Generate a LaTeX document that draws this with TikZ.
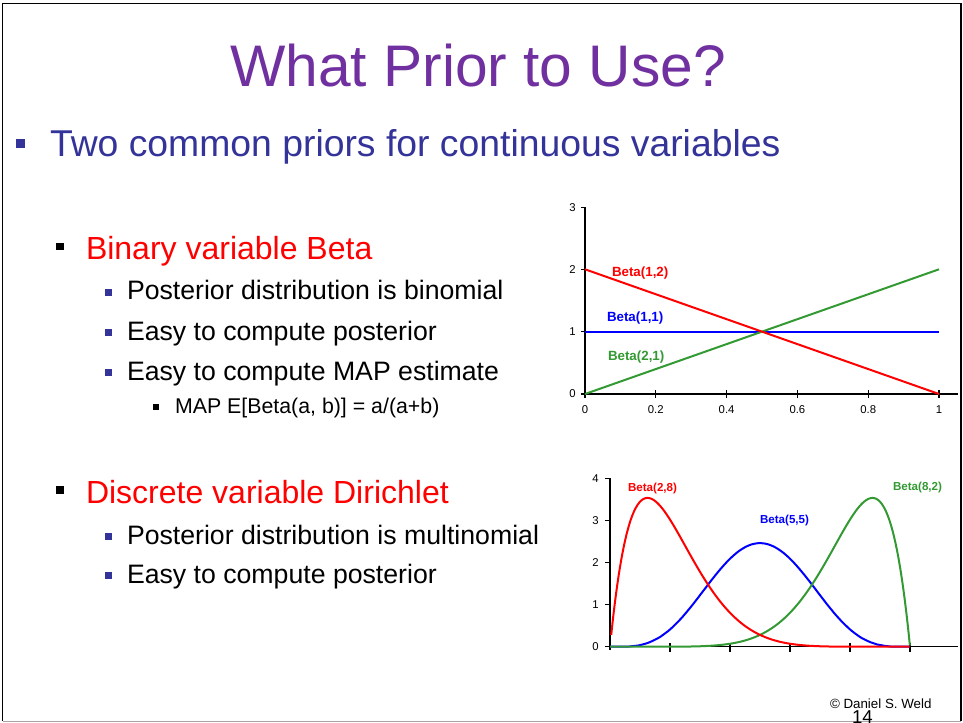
\documentclass[tikz,border=0pt]{standalone}
\usepackage{fontspec}
\setmainfont{Liberation Sans}
\definecolor{titlepurple}{HTML}{7030A0}
\definecolor{slideblue}{HTML}{333399}
\definecolor{curvered}{HTML}{FF0000}
\definecolor{curveblue}{HTML}{0000FF}
\definecolor{curvegreen}{HTML}{339933}
\begin{document}
\begin{tikzpicture}[x=0.75pt,y=-0.75pt,
  txt/.style={inner sep=0pt,outer sep=0pt,anchor=base west},
  lvlone/.style={txt,font=\fontsize{28}{32}\selectfont,text=slideblue},
  lvltwo/.style={txt,font=\fontsize{24}{28}\selectfont,text=curvered},
  lvlthree/.style={txt,font=\fontsize{20}{24}\selectfont,text=black},
  lvlfour/.style={txt,font=\fontsize{16}{19}\selectfont,text=black},
  axisline/.style={line width=0.8pt,black},
  ticklabel/.style={inner sep=0pt,font=\fontsize{8.5}{10}\selectfont},
  curve/.style={line width=1.5pt,line join=round},
  lab/.style={txt,font=\bfseries\fontsize{10}{12}\selectfont},
  labsmall/.style={txt,font=\bfseries\fontsize{8.7}{10}\selectfont}]
\useasboundingbox (0,0) rectangle (963,723);
\begin{scope}
\clip (0,0) rectangle (963,723);

% slide frame
\draw[black,line width=1.4pt] (2.5,721) -- (2.5,3.5) -- (961,3.5) -- (961,721);
\draw[gray!70,line width=1pt] (2.5,721.5) -- (961,721.5);

% title
\node[txt,anchor=base,font=\fontsize{44}{50}\selectfont,text=titlepurple] (title) at (478,87) {What Prior to Use?};

% first-level bullet
\fill[slideblue] (16,139.5) rectangle (25,148.5);
\node[lvlone] (sub) at (50,157) {Two common priors for continuous variables};

% Beta block
\fill[black] (56,243) rectangle (63.5,250.5);
\node[lvltwo] (beta) at (86,260) {Binary variable Beta};
\fill[slideblue] (105,289) rectangle (112,296);
\node[lvlthree] (b1) at (127,300) {Posterior distribution is binomial};
\fill[slideblue] (105,329) rectangle (112,336);
\node[lvlthree] (b2) at (127,340) {Easy to compute posterior};
\fill[slideblue] (105,369) rectangle (112,376);
\node[lvlthree] (b3) at (127,380) {Easy to compute MAP estimate};
\fill[black] (153,404) rectangle (158.5,409.5);
\node[lvlfour] (b4) at (175,413) {MAP E[Beta(a, b)] = a/(a+b)};

% Dirichlet block
\fill[black] (56,486) rectangle (63.5,493.5);
\node[lvltwo] (dir) at (86,503) {Discrete variable Dirichlet};
\fill[slideblue] (105,533) rectangle (112,540);
\node[lvlthree] (d1) at (127,544) {Posterior distribution is multinomial};
\fill[slideblue] (105,572) rectangle (112,579);
\node[lvlthree] (d2) at (127,583) {Easy to compute posterior};

% ---------- upper chart: Beta(1,2), Beta(1,1), Beta(2,1)
\draw[axisline] (585,207.3) -- (585,394) -- (958,394);
\foreach \v/\yy in {0/394,1/331.7,2/269.3,3/207.3}{
  \draw[axisline] (581,\yy) -- (585,\yy);
  \node[ticklabel,anchor=east] at (576,\yy) {\v};
}
\foreach \t [count=\i from 0] in {0,0.2,0.4,0.6,0.8,1}{
  \draw[axisline] ({585+70.8*\i},390) -- ({585+70.8*\i},398);
  \node[ticklabel,anchor=base] at ({585+70.8*\i},413) {\t};
}
\draw[curve,curveblue] (585,331.7) -- (939,331.7);
\draw[curve,curvegreen] (585,394) -- (939,269.3);
\draw[curve,curvered] (585,269.3) -- (939,394);
\node[lab,text=curvered] (l12) at (612,277) {Beta(1,2)};
\node[lab,text=curveblue] (l11) at (607,321.5) {Beta(1,1)};
\node[lab,text=curvegreen] (l21) at (608,360) {Beta(2,1)};

% ---------- lower chart: Beta(2,8), Beta(5,5), Beta(8,2)
\draw[axisline] (610,478.3) -- (610,650) ;
\draw[axisline] (610,646.7) -- (958,646.7);
\foreach \v in {0,...,4}{
  \draw[axisline] (605,{646.7-42.1*\v}) -- (610,{646.7-42.1*\v});
  \node[ticklabel,anchor=east] at (599,{646.7-42.1*\v}) {\v};
}
\foreach \i in {1,...,5}{
  \draw[axisline] ({610+60*\i},643) -- ({610+60*\i},652);
}
\draw[curve,curveblue,domain=0:1,samples=120,smooth]
  plot ({610+300*\x},{646.7-42.1*(630*(\x)^4*(1-\x)^4)});
\draw[curve,curvegreen,domain=0:1,samples=160,smooth]
  plot ({610+300*\x},{646.7-42.1*(72*(\x)^7*(1-\x))});
\draw[curve,curvered,domain=0.004:1,samples=160,smooth]
  plot ({610+300*\x},{646.7-42.1*(72*\x*(1-\x)^7)});
\node[labsmall,text=curvered] (l28) at (628,491.5) {Beta(2,8)};
\node[labsmall,text=curveblue] (l55) at (760,523) {Beta(5,5)};
\node[labsmall,text=curvegreen] (l82) at (893,490.5) {Beta(8,2)};

% footer
\node[txt,font=\fontsize{10}{12}\selectfont] (credit) at (830,708) {© Daniel S. Weld};
\node[txt,font=\fontsize{14}{16}\selectfont] (pageno) at (852,723) {14};
\end{scope}
\end{tikzpicture}
\end{document}
